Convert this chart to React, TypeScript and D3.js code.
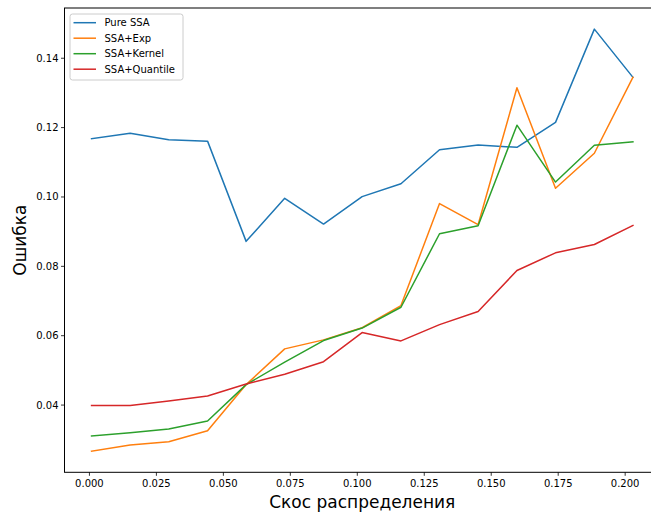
import React from "react";
import * as d3 from "d3";

const xValues = [0.0008, 0.0152, 0.0296, 0.0441, 0.0585, 0.0729, 0.0874, 0.1018, 0.1163, 0.1307, 0.1451, 0.1596, 0.174, 0.1885, 0.2029];
const pureSSA = [0.1168, 0.1184, 0.1165, 0.1161, 0.0872, 0.0996, 0.0922, 0.1001, 0.1038, 0.1136, 0.1150, 0.1143, 0.1215, 0.1484, 0.1345];
const ssaExp = [0.0267, 0.0285, 0.0294, 0.0326, 0.0459, 0.0562, 0.0588, 0.0623, 0.0687, 0.0981, 0.0920, 0.1315, 0.1025, 0.1126, 0.1345];
const ssaKernel = [0.0311, 0.0320, 0.0331, 0.0354, 0.0459, 0.0524, 0.0586, 0.0622, 0.0682, 0.0894, 0.0917, 0.1207, 0.1043, 0.1149, 0.1159];
const ssaQuantile = [0.0399, 0.0399, 0.0412, 0.0426, 0.0461, 0.0489, 0.0525, 0.0609, 0.0585, 0.0632, 0.0670, 0.0788, 0.0839, 0.0863, 0.0918];
const seriesNames = ["Pure SSA", "SSA+Exp", "SSA+Kernel", "SSA+Quantile"];
const seriesColors = ["#1f77b4", "#ff7f0e", "#2ca02c", "#d62728"];
const xTicks = [0, 0.025, 0.05, 0.075, 0.1, 0.125, 0.15, 0.175, 0.2];
const yTicks = [0.04, 0.06, 0.08, 0.1, 0.12, 0.14];

export default function App() {
  const W = 651, H = 515;
  const left = 64.5, right = 660, top = 8, bottom = 472.3;
  const allSeries = [pureSSA, ssaExp, ssaKernel, ssaQuantile];
  const xMin = d3.min(xValues)!, xMax = d3.max(xValues)!;
  const yMin = d3.min(allSeries.flat())!, yMax = d3.max(allSeries.flat())!;
  const xPad = (xMax - xMin) * 0.05, yPad = (yMax - yMin) * 0.05;
  const x = d3.scaleLinear().domain([xMin - xPad, xMax + xPad]).range([left, right]);
  const y = d3.scaleLinear().domain([yMin - yPad, yMax + yPad]).range([bottom, top]);
  const line = d3.line<number>().x((_, i) => x(xValues[i])).y((d) => y(d));
  const font = "DejaVu Sans, sans-serif";

  return (
    <svg width={W} height={H} style={{ position: "absolute", left: 0, top: 0, background: "#fff" }} fontFamily={font}>
      <rect x={0} y={0} width={W} height={H} fill="#fff" />
      <defs>
        <clipPath id="plotclip">
          <rect x={left} y={top} width={right - left} height={bottom - top} />
        </clipPath>
      </defs>
      <g clipPath="url(#plotclip)">
        {allSeries.map((s, k) => (
          <path key={k} d={line(s)!} fill="none" stroke={seriesColors[k]} strokeWidth={1.5} strokeLinejoin="round" strokeLinecap="square" />
        ))}
      </g>
      <rect x={left} y={top} width={right - left} height={bottom - top} fill="none" stroke="#000" strokeWidth={1} />
      {xTicks.map((t) => (
        <g key={t}>
          <line x1={x(t)} x2={x(t)} y1={bottom} y2={bottom + 3.5} stroke="#000" strokeWidth={0.8} />
          <text x={x(t)} y={bottom + 15} fontSize={10} textAnchor="middle" fill="#000">{t.toFixed(3)}</text>
        </g>
      ))}
      {yTicks.map((t) => (
        <g key={t}>
          <line x1={left - 3.5} x2={left} y1={y(t)} y2={y(t)} stroke="#000" strokeWidth={0.8} />
          <text x={left - 6} y={y(t) + 3.5} fontSize={10} textAnchor="end" fill="#000">{t.toFixed(2)}</text>
        </g>
      ))}
      <text x={(left + right) / 2} y={508} fontSize={17} textAnchor="middle" fill="#000">Скос распределения</text>
      <text transform={`translate(26, ${(top + bottom) / 2}) rotate(-90)`} fontSize={17} textAnchor="middle" fill="#000">Ошибка</text>
      <g>
        <rect x={70} y={14} width={113} height={66} rx={2.5} fill="#fff" fillOpacity={0.8} stroke="#ccc" strokeWidth={1} />
        {seriesNames.map((n, k) => (
          <g key={n}>
            <line x1={73.5} x2={96} y1={22.7 + k * 15.5} y2={22.7 + k * 15.5} stroke={seriesColors[k]} strokeWidth={1.5} />
            <text x={104.5} y={22.7 + k * 15.5 + 3.6} fontSize={10} fill="#000">{n}</text>
          </g>
        ))}
      </g>
    </svg>
  );
}
